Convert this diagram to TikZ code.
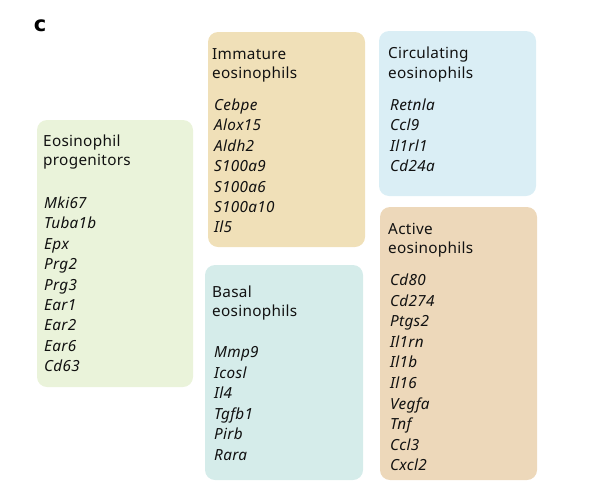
\documentclass[tikz,border=0pt]{standalone}
\usepackage{fontspec}
\setmainfont{Noto Sans}[LetterSpace=2]
\newfontfamily\labfont{DejaVu Sans}
\definecolor{progc}{HTML}{EAF3DA}
\definecolor{immc}{HTML}{F0E0B8}
\definecolor{circc}{HTML}{DAEEF5}
\definecolor{basc}{HTML}{D5ECEA}
\definecolor{actc}{HTML}{EDD8BA}
\definecolor{txt}{HTML}{111111}
\tikzset{
  panel/.style={rounded corners=10pt, draw=none},
  head/.style={anchor=base west, inner sep=0pt, font=\fontsize{15.3}{18}\selectfont, text=txt},
  gene/.style={anchor=base west, inner sep=0pt, font=\fontsize{15.3}{18}\selectfont\itshape, text=txt},
}
\begin{document}
\begin{tikzpicture}[x=1pt,y=-1pt]
\useasboundingbox (0,0) rectangle (596,490);
\node[anchor=center, inner sep=0pt, font=\labfont\fontsize{21}{22}\selectfont\bfseries] (lab) at (40,25.5) {c};
% panels
\fill[panel, progc] (37,120) rectangle (193,387);
\fill[panel, immc] (208,32) rectangle (365,247);
\fill[panel, circc] (379,31) rectangle (536,196);
\fill[panel, basc] (205,265) rectangle (363,480);
\fill[panel, actc] (380,207) rectangle (537,480);
% progenitors
\node[head] (p-h1) at (43,146.5) {Eosinophil};
\node[head] (p-h2) at (43,165.5) {progenitors};
\foreach \g [count=\i] in {Mki67,Tuba1b,Epx,Prg2,Prg3,Ear1,Ear2,Ear6,Cd63}
  \node[gene] (p-g\i) at (44,{208.5+20.4*(\i-1)}) {\g};
% immature
\node[head] (i-h1) at (212,59.5) {Immature};
\node[head] (i-h2) at (212,78.5) {eosinophils};
\foreach \g [count=\i] in {Cebpe,Alox15,Aldh2,S100a9,S100a6,S100a10,Il5}
  \node[gene] (i-g\i) at (214,{110.5+20.4*(\i-1)}) {\g};
% circulating
\node[head] (c-h1) at (388,58.5) {Circulating};
\node[head] (c-h2) at (388,78.5) {eosinophils};
\foreach \g [count=\i] in {Retnla,Ccl9,Il1rl1,Cd24a}
  \node[gene] (c-g\i) at (390,{110.5+20.4*(\i-1)}) {\g};
% basal
\node[head] (b-h1) at (212,297.5) {Basal};
\node[head] (b-h2) at (212,316.5) {eosinophils};
\foreach \g [count=\i] in {Mmp9,Icosl,Il4,Tgfb1,Pirb,Rara}
  \node[gene] (b-g\i) at (214,{357.5+20.6*(\i-1)}) {\g};
% active
\node[head] (a-h1) at (388,234.5) {Active};
\node[head] (a-h2) at (388,253.5) {eosinophils};
\foreach \g [count=\i] in {Cd80,Cd274,Ptgs2,Il1rn,Il1b,Il16,Vegfa,Tnf,Ccl3,Cxcl2}
  \node[gene] (a-g\i) at (390,{285.5+20.6*(\i-1)}) {\g};
\end{tikzpicture}
\end{document}
